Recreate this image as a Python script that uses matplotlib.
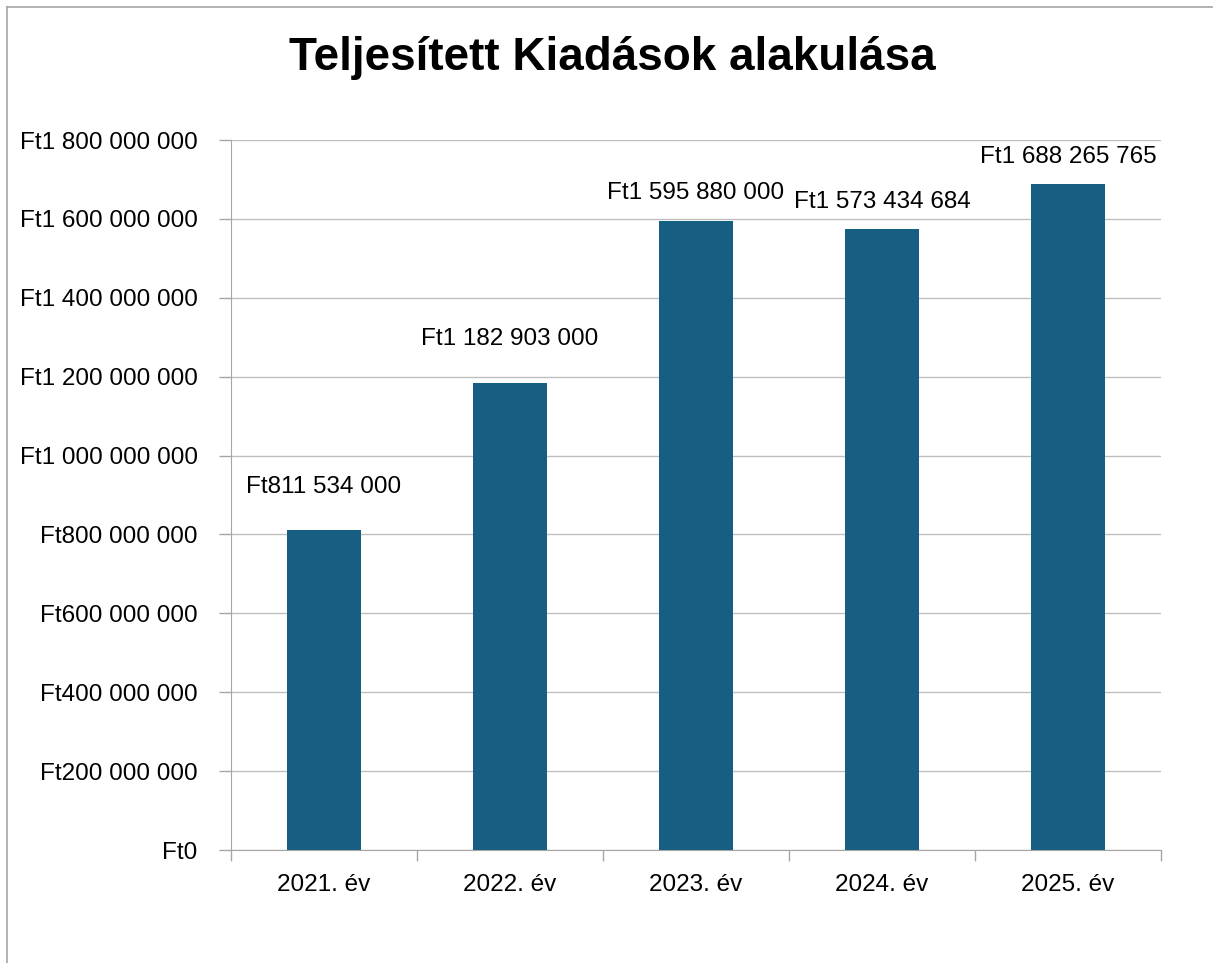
import matplotlib.pyplot as plt
from matplotlib.ticker import FuncFormatter

# Data
years = ["2021. év", "2022. év", "2023. év", "2024. év", "2025. év"]
spending = [811534000, 1182903000, 1595880000, 1573434684, 1688265765]
y_ticks = [0, 200000000, 400000000, 600000000, 800000000,
           1000000000, 1200000000, 1400000000, 1600000000, 1800000000]

# label offsets above each bar (points), Excel nudged the upper ones
label_offsets = [31, 32, 20, 19.5, 19.5]

plt.rcParams['font.family'] = ['Liberation Sans', 'DejaVu Sans']


def ft_format(value, pos=None):
    """Format a number like Excel's Hungarian currency: Ft1 800 000 000."""
    return "Ft" + f"{int(round(value)):,}".replace(",", " ")


fig = plt.figure(figsize=(12.13, 9.63), dpi=100)
ax = fig.add_axes([0.1904, 0.1173, 0.9571 - 0.1904, 0.8546 - 0.1173])

x = range(len(years))
bars = ax.bar(x, spending, width=0.4, color="#175F82", zorder=3)

ax.set_ylim(0, 1800000000)
ax.set_xlim(-0.5, len(years) - 0.5)
ax.set_yticks(y_ticks)
ax.yaxis.set_major_formatter(FuncFormatter(ft_format))
ax.grid(axis="y", color="#BFBFBF", linewidth=1, zorder=0)

# category ticks sit on boundaries, labels in the middle
ax.set_xticks([i - 0.5 for i in range(len(years) + 1)])
ax.set_xticklabels([])
ax.set_xticks(list(x), minor=True)
ax.set_xticklabels(years, minor=True)
ax.tick_params(axis="x", which="major", length=8, width=1, color="#A6A6A6", direction="out")
ax.tick_params(axis="x", which="minor", length=0, pad=17, labelsize=17.5)
ax.tick_params(axis="y", length=9, width=1, color="#A6A6A6", direction="out", labelsize=17.5, pad=15)

for side in ["top", "right"]:
    ax.spines[side].set_visible(False)
ax.spines["left"].set_color("#A6A6A6")
ax.spines["bottom"].set_color("#A6A6A6")

for bar, val, off in zip(bars, spending, label_offsets):
    ax.annotate(ft_format(val), (bar.get_x() + bar.get_width() / 2, val),
                xytext=(0, off), textcoords="offset points",
                ha="center", va="center", fontsize=17.5)

fig.text(0.505, 1 - 58 / 963, "Teljesített Kiadások alakulása", ha="center", va="center",
         fontsize=33, fontweight="bold")

# chart frame (only top and left edges are visible in the crop)
fig.add_artist(plt.Line2D([7 / 1213, 1], [1 - 7 / 963, 1 - 7 / 963],
                          transform=fig.transFigure, color="#A6A6A6", linewidth=1.2))
fig.add_artist(plt.Line2D([7 / 1213, 7 / 1213], [0, 1 - 7 / 963],
                          transform=fig.transFigure, color="#A6A6A6", linewidth=1.2))

plt.savefig("out.png", dpi=100)
